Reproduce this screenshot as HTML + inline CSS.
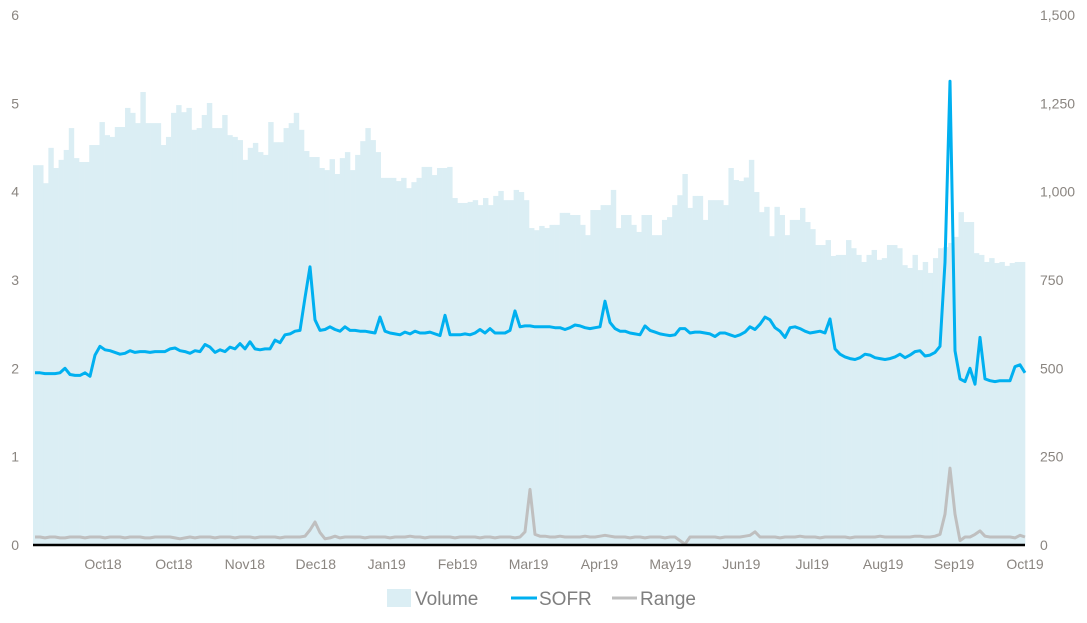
<!DOCTYPE html>
<html><head><meta charset="utf-8">
<style>
html,body{margin:0;padding:0;background:#fff;}
svg{display:block;font-family:"Liberation Sans",sans-serif;}
.tick{fill:#8a8580;font-size:14px;}
.leg{fill:#7f7f7f;font-size:19px;}
</style></head>
<body>
<svg id="chart" width="1087" height="623" viewBox="0 0 1087 623" xmlns="http://www.w3.org/2000/svg">
<g id="bars"></g>
<g id="lines"></g>
<line x1="33" y1="545" x2="1025" y2="545" stroke="#000" stroke-width="2.5"/>
<g id="ylabels"></g>
<g id="y2labels"></g>
<g id="xlabels"></g>
<g>
<g><rect x="387" y="589" width="24" height="18" fill="#dbeef4"/><text class="leg" x="415" y="605">Volume</text></g>
<g><line x1="511" y1="598" x2="537" y2="598" stroke="#00b0f0" stroke-width="3"/><text class="leg" x="539" y="605">SOFR</text></g>
<g><line x1="612" y1="598" x2="637" y2="598" stroke="#bfbfbf" stroke-width="3"/><text class="leg" x="640" y="605">Range</text></g>
</g>
</svg>
<script>
const volume = [1075,1075,1024,1124,1067,1090,1118,1180,1095,1084,1084,1132,1132,1197,1160,1155,1183,1183,1237,1223,1194,1282,1194,1194,1194,1132,1155,1223,1245,1225,1237,1175,1180,1217,1251,1180,1180,1217,1160,1155,1146,1090,1124,1138,1112,1104,1197,1140,1140,1180,1194,1223,1175,1115,1098,1098,1067,1061,1092,1050,1095,1112,1061,1104,1143,1180,1146,1112,1039,1039,1039,1030,1039,1010,1027,1039,1070,1070,1047,1067,1067,1070,982,968,968,971,976,962,982,962,988,1002,976,976,1005,999,976,897,891,903,897,906,906,940,940,934,934,906,877,948,948,962,962,1005,897,934,934,906,886,934,934,877,877,920,928,962,990,1050,954,988,988,920,976,976,976,962,1067,1033,1030,1040,1090,999,942,957,874,957,934,877,920,920,954,914,894,849,849,863,818,821,821,863,840,821,801,821,835,807,812,849,849,840,792,784,821,778,801,770,812,840,843,855,872,942,914,914,826,821,801,812,798,801,790,798,801,801];
const sofr = [1.95,1.95,1.94,1.94,1.94,1.95,2.00,1.93,1.92,1.92,1.95,1.91,2.15,2.25,2.21,2.20,2.18,2.16,2.17,2.20,2.18,2.19,2.19,2.18,2.19,2.19,2.19,2.22,2.23,2.20,2.19,2.17,2.20,2.19,2.27,2.24,2.18,2.21,2.19,2.24,2.22,2.28,2.22,2.30,2.22,2.21,2.22,2.22,2.32,2.29,2.38,2.39,2.42,2.43,2.80,3.15,2.55,2.43,2.44,2.47,2.44,2.42,2.47,2.43,2.43,2.42,2.42,2.41,2.40,2.58,2.42,2.40,2.39,2.38,2.41,2.39,2.42,2.40,2.40,2.41,2.39,2.37,2.60,2.38,2.38,2.38,2.39,2.38,2.40,2.44,2.40,2.45,2.40,2.40,2.40,2.43,2.65,2.47,2.48,2.48,2.47,
2.47,2.47,2.47,2.46,2.46,2.44,2.46,2.49,2.48,2.46,2.45,2.46,2.47,2.76,2.52,2.45,2.42,2.42,2.40,2.39,2.38,2.48,2.43,2.41,2.39,2.38,2.37,2.38,2.45,2.45,2.40,2.41,2.41,2.40,2.39,2.36,2.40,2.40,2.38,2.36,2.38,2.41,2.47,2.44,2.50,2.58,2.55,2.46,2.42,2.35,2.46,2.47,2.45,2.42,2.40,2.41,2.42,2.40,2.56,2.22,2.16,2.13,2.11,2.10,2.12,2.16,2.15,2.12,2.11,2.10,2.11,2.13,2.16,2.12,2.15,2.19,2.20,2.14,2.15,2.18,2.25,3.20,5.25,2.20,1.88,1.85,2.00,1.82,2.35,1.88,1.86,1.85,1.86,1.86,1.86,2.02,2.04,1.95];
const range = [.09,.09,.08,.09,.09,.08,.08,.09,.09,.09,.08,.09,.09,.09,.08,.09,.09,.09,.08,.09,.09,.09,.08,.08,.09,.09,.09,.09,.08,.07,.08,.09,.08,.09,.09,.09,.08,.09,.09,.09,.08,.09,.09,.09,.08,.09,.09,.09,.09,.08,.09,.09,.09,.09,.10,.17,.26,.14,.07,.08,.10,.08,.09,.09,.09,.09,.08,.09,.09,.09,.09,.08,.09,.09,.09,.10,.09,.09,.08,.09,.09,.09,.09,.09,.08,.09,.09,.09,.09,.08,.09,.09,.08,.09,.09,.09,.08,.09,.15,.63,.12,.10,.10,.09,.09,.10,.09,.09,.09,.09,.10,.09,.09,.10,.11,.10,.09,.09,.09,.08,.09,.09,.08,.09,.09,.09,.08,.09,.09,.05,.01,.09,.09,.09,.09,.09,.09,.08,.09,.09,.09,.09,.10,.11,.15,.09,.09,.09,.09,.08,.09,.09,.09,.10,.09,.09,.09,.08,.09,.09,.09,.09,.09,.08,.09,.09,.09,.09,.09,.10,.09,.09,.09,.09,.09,.09,.10,.10,.09,.09,.10,.12,.35,.87,.35,.05,.09,.09,.12,.16,.10,.09,.09,.09,.09,.09,.08,.11,.09];
const leftTicks = ["0","1","2","3","4","5","6"];
const rightTicks = ["0","250","500","750","1,000","1,250","1,500"];
const monthLabels = ["Oct18","Oct18","Nov18","Dec18","Jan19","Feb19","Mar19","Apr19","May19","Jun19","Jul19","Aug19","Sep19","Oct19"];

const NS = "http://www.w3.org/2000/svg";
const X0 = 33, X1 = 1025, Y0 = 545, Y1 = 15;
const yL = v => Y0 - (v / 6) * (Y0 - Y1);
const yR = v => Y0 - (v / 1500) * (Y0 - Y1);
const xLine = (i, n) => 35 + i * (990 / (n - 1));

const bars = document.getElementById('bars');
const bw = (X1 - X0) / volume.length;
volume.forEach((v, i) => {
  const r = document.createElementNS(NS, 'rect');
  
  
  r.setAttribute('x', (X0 + i * bw).toFixed(2));
  r.setAttribute('y', yR(v).toFixed(2));
  r.setAttribute('width', (bw + 0.3).toFixed(2));
  r.setAttribute('height', (Y0 - yR(v)).toFixed(2));
  r.setAttribute('fill', '#dbeef4');
  bars.appendChild(r);
});

const lines = document.getElementById('lines');
function drawLine(arr, color, name) {
  const p = document.createElementNS(NS, 'polyline');
  
  
  p.setAttribute('points', arr.map((v, i) => xLine(i, arr.length).toFixed(1) + ',' + yL(v).toFixed(1)).join(' '));
  p.setAttribute('fill', 'none');
  p.setAttribute('stroke', color);
  p.setAttribute('stroke-width', '3');
  p.setAttribute('stroke-linejoin', 'round');
  lines.appendChild(p);
}
drawLine(range, '#bfbfbf', 'range-line');
drawLine(sofr, '#00b0f0', 'sofr-line');

const yl = document.getElementById('ylabels');
leftTicks.forEach((t, i) => {
  const e = document.createElementNS(NS, 'text');
  
  
  e.setAttribute('class', 'tick');
  e.setAttribute('x', 19);
  e.setAttribute('text-anchor', 'end');
  e.setAttribute('y', yL(i) + 5);
  e.textContent = t;
  yl.appendChild(e);
});
const yr = document.getElementById('y2labels');
rightTicks.forEach((t, i) => {
  const e = document.createElementNS(NS, 'text');
  
  
  e.setAttribute('class', 'tick');
  e.setAttribute('x', 1040);
  e.setAttribute('y', yR(i * 250) + 5);
  e.textContent = t;
  yr.appendChild(e);
});
const xl = document.getElementById('xlabels');
monthLabels.forEach((t, i) => {
  const e = document.createElementNS(NS, 'text');
  
  
  e.setAttribute('class', 'tick');
  e.setAttribute('text-anchor', 'middle');
  e.setAttribute('x', 103 + i * (1025 - 103) / 13);
  e.setAttribute('y', 569);
  e.textContent = t;
  xl.appendChild(e);
});
</script>
</body></html>
